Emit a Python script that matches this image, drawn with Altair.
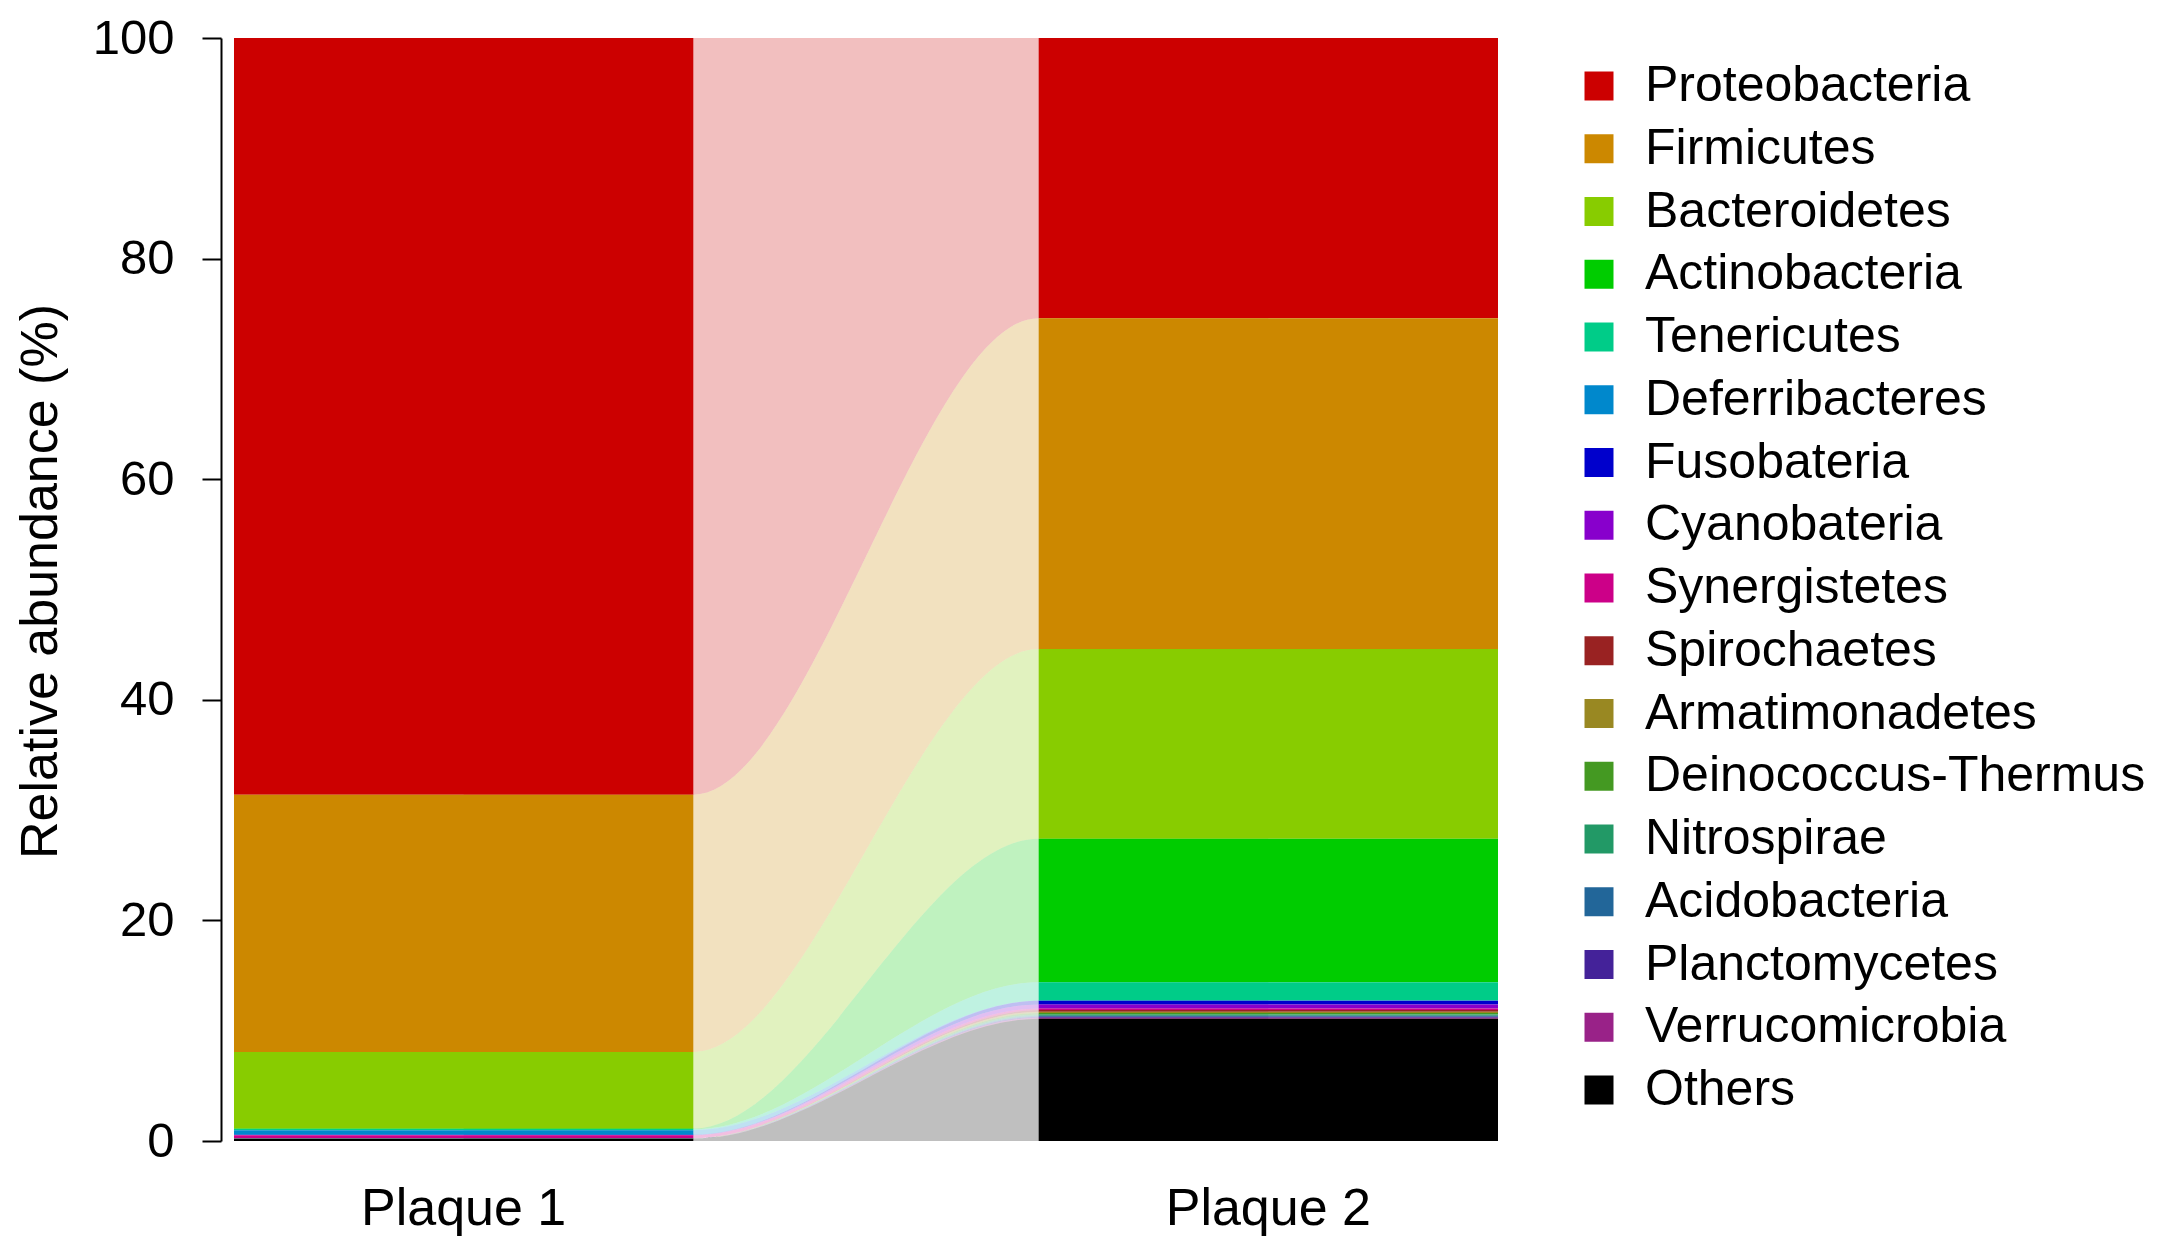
import altair as alt
import pandas as pd

# ---- data ----
phyla = ["Proteobacteria", "Firmicutes", "Bacteroidetes", "Actinobacteria",
         "Tenericutes", "Deferribacteres", "Fusobateria", "Cyanobateria",
         "Synergistetes", "Spirochaetes", "Armatimonadetes",
         "Deinococcus-Thermus", "Nitrospirae", "Acidobacteria",
         "Planctomycetes", "Verrucomicrobia", "Others"]
colors = ["#CC0000", "#CC8800", "#88CC00", "#00CC00", "#00CC88", "#0088CC",
          "#0000CC", "#8800CC", "#CC0088", "#992222", "#998822", "#449922",
          "#229966", "#226699", "#442299", "#992288", "#000000"]
samples = ["Plaque 1", "Plaque 2"]
plaque1 = [68.6, 23.32, 6.95, 0.05, 0.10, 0.42, 0.02, 0.03, 0.24,
           0.01, 0.01, 0.01, 0.01, 0.01, 0.01, 0.01, 0.20]
plaque2 = [25.4, 30.0, 17.2, 13.0, 1.67, 0.02, 0.33, 0.36, 0.15,
           0.15, 0.12, 0.12, 0.12, 0.09, 0.09, 0.10, 11.08]
values = [plaque1, plaque2]

# ---- layout (bar positions along a continuous x scale) ----
BAR_W = 1.0
GAP = 0.752
lefts = [0.0, BAR_W + GAP]
n = len(phyla)

bar_rows = []
for s, name in enumerate(samples):
    for i, ph in enumerate(phyla):
        bar_rows.append(dict(sample=name, phylum=ph, order=n - 1 - i,
                             value=values[s][i], x0=lefts[s], x1=lefts[s] + BAR_W))
bar_df = pd.DataFrame(bar_rows)

flow_rows = []
for i, ph in enumerate(phyla):
    for xp, v in [(lefts[0] + BAR_W / 2, plaque1[i]), (lefts[0] + BAR_W, plaque1[i]),
                  (lefts[1], plaque2[i]), (lefts[1] + BAR_W / 2, plaque2[i])]:
        flow_rows.append(dict(phylum=ph, order=n - 1 - i, value=v, xpos=xp))
flow_df = pd.DataFrame(flow_rows)

label_df = pd.DataFrame({"sample": samples,
                         "xc": [l + BAR_W / 2 for l in lefts]})

FONT = "Liberation Sans"
W, H = 1290, 1103
TOP = 30

x_scale = alt.Scale(domain=[-0.0283, 2.7803], nice=False, zero=False)
y_scale = alt.Scale(domain=[0, 100], nice=False)
color_scale = alt.Scale(domain=phyla, range=colors)

y_axis = alt.Axis(values=[0, 20, 40, 60, 80, 100], title="Relative abundance (%)",
                  titleFont=FONT, titleFontSize=52, titleFontWeight="normal",
                  titleColor="black", labelFont=FONT, labelFontSize=49,
                  labelColor="black", tickSize=19, tickWidth=2, tickColor="black",
                  domainWidth=2, domainColor="black", labelPadding=28, grid=False,
                  titleX=-165, titleY=H / 2 - 8.5, titleAngle=270, titleAlign="center",
                  titleBaseline="alphabetic")

legend = alt.Legend(title=None, orient="none", legendX=1353, legendY=23,
                    labelFont=FONT, labelFontSize=50, labelColor="black",
                    symbolType="square", symbolSize=841, symbolStrokeWidth=0,
                    symbolOpacity=1, labelOffset=21, rowPadding=12.75, padding=0,
                    labelLimit=1000)

color_enc = alt.Color("phylum:N", scale=color_scale, legend=legend)

flows = alt.Chart(flow_df).transform_stack(
    stack="value", groupby=["xpos"], as_=["y0", "y1"],
    sort=[alt.SortField("order", order="ascending")]
).mark_area(interpolate="monotone", opacity=0.25).encode(
    x=alt.X("xpos:Q", scale=x_scale, axis=None),
    y=alt.Y("y0:Q", scale=y_scale, axis=y_axis),
    y2="y1:Q",
    color=color_enc,
)

bars = alt.Chart(bar_df).transform_stack(
    stack="value", groupby=["sample"], as_=["y0", "y1"],
    sort=[alt.SortField("order", order="ascending")]
).mark_bar().encode(
    x=alt.X("x0:Q", scale=x_scale, axis=None),
    x2="x1:Q",
    y=alt.Y("y0:Q", scale=y_scale, axis=y_axis),
    y2="y1:Q",
    color=color_enc,
)

labels = alt.Chart(label_df).mark_text(
    font=FONT, fontSize=52, align="center", baseline="alphabetic", color="black"
).encode(
    x=alt.X("xc:Q", scale=x_scale, axis=None),
    y=alt.value(H + 84),
    text="sample:N",
)

chart = alt.layer(flows, bars, labels).properties(
    width=W, height=H, background="white",
    padding={"left": 213, "top": TOP, "right": 646, "bottom": 96},
    autosize=alt.AutoSizeParams(type="none"),
).configure_view(stroke=None)

chart.save("out.html", embed_options={"renderer": "svg", "actions": False})
